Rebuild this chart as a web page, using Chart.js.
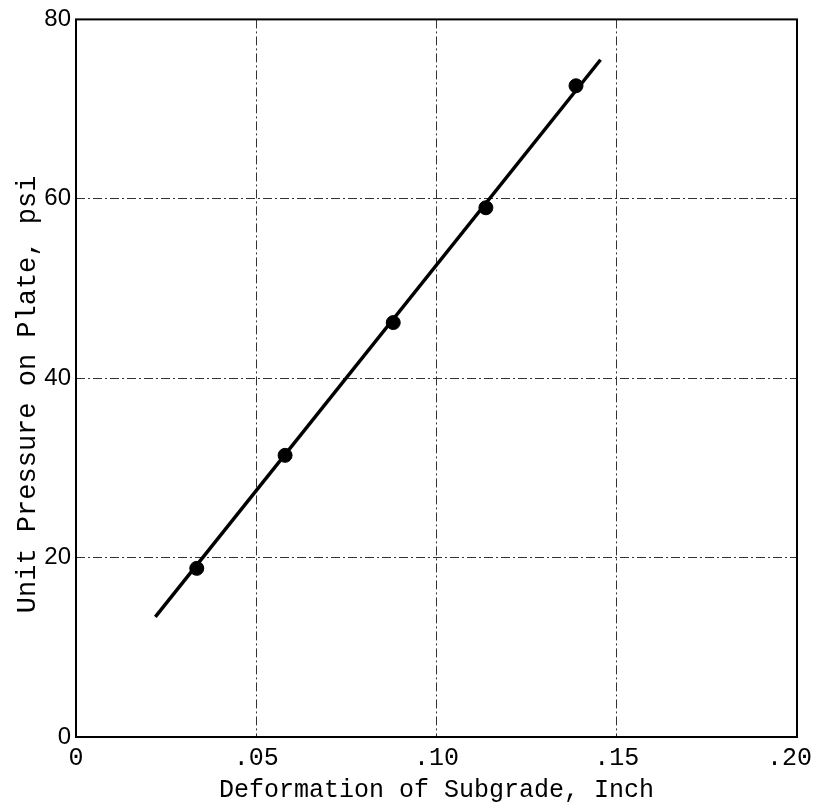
<!DOCTYPE html>
<html lang="en">
<head>
    <meta charset="UTF-8">
    <title>Unit Pressure vs Deformation of Subgrade</title>
    <style>
        body { margin: 0; background: #ffffff; }
        #wrap { width: 819px; height: 807px; }
    </style>
</head>
<body>
    <div id="wrap"><canvas id="chart" width="819" height="807"></canvas></div>

    <script src="https://cdn.jsdelivr.net/npm/chart.js"></script>
    <script>
        // Measured plate-load points
        const deformation = [0.0335, 0.058, 0.088, 0.1137, 0.1387];
        const pressure = [18.8, 31.4, 46.2, 59.0, 72.6];

        // Fitted straight line (end points)
        const fitX = [0.022, 0.1455];
        const fitY = [13.4, 75.5];

        // Tick labels (trailing space keeps ".20" inside the page)
        const xTicks = [0, 0.05, 0.10, 0.15, 0.20];
        const xTickLabels = ["0", ".05", ".10", ".15", ".20 "];
        const yTicks = [0, 20, 40, 60, 80];

        const mono = "'Liberation Mono', 'Courier New', monospace";
        const sans = "'Liberation Sans', Arial, sans-serif";

        // solid frame around the plot area
        const framePlugin = {
            id: "frame",
            afterDatasetsDraw(chart) {
                const { ctx, chartArea: a } = chart;
                ctx.save();
                ctx.strokeStyle = "#000";
                ctx.lineWidth = 2;
                ctx.strokeRect(a.left, a.top, a.right - a.left, a.bottom - a.top);
                ctx.restore();
            }
        };

        const edgeOrDash = (ctx, first, last) =>
            (ctx.tick && (ctx.tick.value === first || ctx.tick.value === last)) ? "rgba(0,0,0,0)" : "#333";

        new Chart(document.getElementById("chart").getContext("2d"), {
            type: "scatter",
            data: {
                datasets: [
                    {
                        label: "Fit",
                        data: fitX.map((x, i) => ({ x: x, y: fitY[i] })),
                        showLine: true,
                        borderColor: "#000",
                        borderWidth: 3.5,
                        pointRadius: 0,
                        order: 2
                    },
                    {
                        label: "Test points",
                        data: deformation.map((x, i) => ({ x: x, y: pressure[i] })),
                        backgroundColor: "#000",
                        borderColor: "#000",
                        pointRadius: 7,
                        order: 1
                    }
                ]
            },
            options: {
                responsive: false,
                animation: false,
                layout: { padding: { top: 15, right: 22, left: 0, bottom: 0 } },
                plugins: {
                    legend: { display: false },
                    tooltip: { enabled: false }
                },
                scales: {
                    x: {
                        type: "linear",
                        min: 0,
                        max: 0.20,
                        afterBuildTicks: (axis) => { axis.ticks = xTicks.map(v => ({ value: v })); },
                        afterFit: (axis) => {
                            axis.height = 70;
                            // let the ".20" label hang past the frame like the original
                            axis.paddingLeft = 0;
                            axis.paddingRight = 0;
                        },
                        ticks: {
                            color: "#000",
                            font: { family: mono, size: 25 },
                            padding: 6,
                            maxRotation: 0,
                            callback: (v) => xTickLabels[xTicks.indexOf(v)] ?? ""
                        },
                        grid: {
                            drawTicks: false,
                            lineWidth: 1,
                            color: (ctx) => edgeOrDash(ctx, 0, 0.20)
                        },
                        border: { display: false, dash: [9, 3, 2, 3] },
                        title: {
                            display: true,
                            text: "Deformation of Subgrade, Inch",
                            color: "#000",
                            font: { family: mono, size: 25 },
                            padding: { top: 0, bottom: 2 }
                        }
                    },
                    y: {
                        min: 0,
                        max: 80,
                        afterBuildTicks: (axis) => { axis.ticks = yTicks.map(v => ({ value: v })); },
                        afterFit: (axis) => { axis.width = 76; },
                        ticks: {
                            color: "#000",
                            font: { family: sans, size: 24 },
                            padding: 5
                        },
                        grid: {
                            drawTicks: false,
                            lineWidth: 1,
                            color: (ctx) => edgeOrDash(ctx, 0, 80)
                        },
                        border: { display: false, dash: [9, 3, 2, 3] },
                        title: {
                            display: true,
                            // trailing spaces nudge the centred title down a little, as in the original
                            text: "Unit Pressure on Plate, psi  ",
                            color: "#000",
                            font: { family: mono, size: 27 },
                            padding: { top: 12, bottom: 0 }
                        }
                    }
                }
            },
            plugins: [framePlugin]
        });
    </script>
</body>
</html>
